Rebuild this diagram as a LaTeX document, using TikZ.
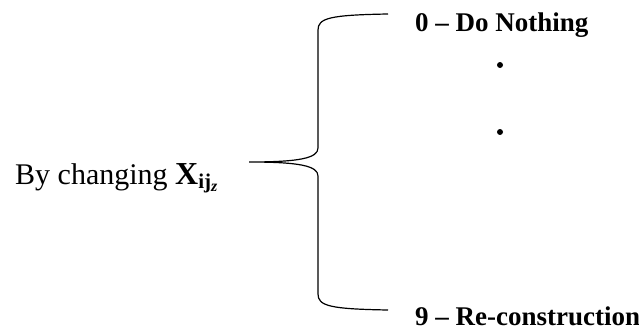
\documentclass[tikz,border=0pt]{standalone}
\usepackage{fontspec}
\setmainfont{Liberation Serif}
\usetikzlibrary{calc}
\newcommand{\xvar}{{\fontsize{32}{36}\selectfont\bfseries X}\raisebox{-0.3ex}{\fontsize{21}{24}\selectfont\bfseries ij\raisebox{-0.3ex}{\fontsize{16}{18}\selectfont\itshape z}}}
\tikzset{
    label/.style={anchor=base west, inner sep=0pt, font=\fontsize{30}{36}\selectfont},
    choice/.style={anchor=base west, inner sep=0pt, font=\fontsize{27}{32}\selectfont\bfseries},
    brace/.style={line width=1.2pt, black},
    dot/.style={circle, fill=black, inner sep=0pt, minimum size=6pt},
    }

\begin{document}
\begin{tikzpicture}[x=1pt, y=-1pt]
    \useasboundingbox (0,0) rectangle (639,329);

    % texts
    \node[label] (by) at (15,184) {By changing \xvar};
    \node[choice] (first) at (415,32) {0 -- Do Nothing};
    \node[choice] (last) at (415,325) {9 -- Re-construction};

    \node[dot] (d1) at (500,65) {};
    \node[dot] (d2) at (500,132) {};

    % brace
    \coordinate (top) at (388,14);
    \coordinate (tip) at (249,162);
    \coordinate (bot) at (388,310);
    \draw[brace] (top) .. controls (330,15) and (318,18) .. (318,30)
        -- (318,148) .. controls (318,158) and (300,162) .. (tip)
        .. controls (300,162) and (318,166) .. (318,176)
        -- (318,294) .. controls (318,306) and (330,309) .. (bot);

\end{tikzpicture}
\end{document}
